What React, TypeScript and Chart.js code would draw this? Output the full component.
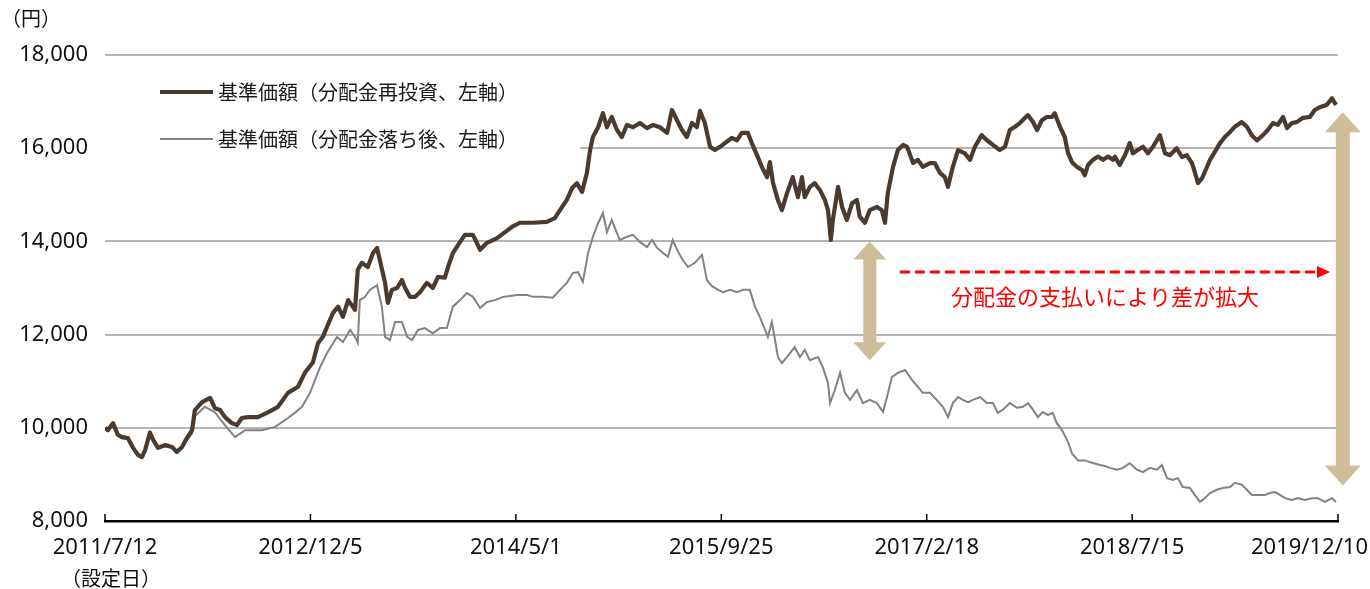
import React, { useEffect, useRef } from 'react';
import { Chart, registerables } from 'chart.js';

Chart.register(...registerables);

// ---- data (x = days since 2011/7/12) ----
const tickDays = [0, 512, 1024, 1536, 2048, 2560, 3073];
const tickLabels = ['2011/7/12', '2012/12/5', '2014/5/1', '2015/9/25', '2017/2/18', '2018/7/15', '2019/12/10'];
const yTicks = [8000, 10000, 12000, 14000, 16000, 18000];
const seriesNames = ['基準価額（分配金再投資、左軸）', '基準価額（分配金落ち後、左軸）'];

const reinvestDays = [
  0, 7, 20, 32, 42, 57, 70, 82, 92, 100,
  112, 120, 132, 150, 167, 179, 192, 204, 217, 224,
  242, 262, 274, 287, 299, 316, 329, 341, 356, 381,
  406, 431, 456, 481, 498, 518, 531, 543, 553, 568,
  581, 593, 606, 623, 630, 640, 655, 668, 678, 685,
  698, 705, 715, 728, 740, 748, 760, 773, 785, 802,
  817, 830, 847, 855, 867, 885, 897, 917, 935, 952,
  977, 997, 1014, 1034, 1067, 1101, 1121, 1134, 1151, 1164,
  1176, 1189, 1201, 1209, 1216, 1229, 1241, 1251, 1263, 1276,
  1288, 1301, 1316, 1333, 1351, 1366, 1383, 1401, 1413, 1425,
  1438, 1450, 1463, 1475, 1483, 1495, 1508, 1520, 1533, 1545,
  1562, 1575, 1587, 1602, 1612, 1625, 1637, 1650, 1657, 1665,
  1677, 1687, 1700, 1714, 1727, 1737, 1744, 1757, 1769, 1782,
  1794, 1802, 1809, 1814, 1827, 1837, 1849, 1862, 1874, 1881,
  1894, 1906, 1924, 1936, 1944, 1951, 1964, 1976, 1989, 1999,
  2014, 2026, 2038, 2056, 2068, 2081, 2093, 2101, 2113, 2126,
  2143, 2156, 2168, 2185, 2198, 2213, 2230, 2243, 2255, 2268,
  2280, 2300, 2313, 2323, 2335, 2347, 2360, 2367, 2380, 2392,
  2400, 2410, 2422, 2435, 2442, 2450, 2462, 2475, 2487, 2500,
  2512, 2517, 2529, 2542, 2554, 2562, 2574, 2587, 2599, 2612,
  2629, 2642, 2654, 2671, 2684, 2696, 2709, 2716, 2724, 2734,
  2741, 2754, 2766, 2779, 2791, 2804, 2816, 2833, 2846, 2858,
  2871, 2886, 2898, 2911, 2923, 2936, 2946, 2958, 2970, 2985,
  3003, 3015, 3028, 3045, 3058, 3068,
];
const reinvestNav = [
  10000, 9950, 10100, 9850, 9800, 9780, 9570, 9420, 9370, 9520,
  9900, 9740, 9570, 9630, 9590, 9480, 9590, 9780, 9950, 10380,
  10550, 10640, 10420, 10380, 10230, 10100, 10060, 10210, 10230, 10230,
  10330, 10450, 10750, 10880, 11180, 11400, 11820, 11950, 12160, 12460,
  12600, 12380, 12740, 12530, 13390, 13540, 13450, 13750, 13860, 13600,
  13110, 12680, 12960, 13000, 13170, 13000, 12810, 12810, 12910, 13110,
  13000, 13240, 13220, 13450, 13750, 13990, 14140, 14140, 13820, 13970,
  14070, 14200, 14310, 14400, 14400, 14420, 14500, 14670, 14890, 15140,
  15250, 15060, 15470, 15960, 16240, 16450, 16750, 16450, 16670, 16390,
  16240, 16500, 16450, 16540, 16430, 16500, 16450, 16330, 16820, 16610,
  16390, 16240, 16540, 16450, 16800, 16540, 16030, 15960, 16030, 16110,
  16220, 16170, 16330, 16330, 16110, 15850, 15600, 15380, 15700, 15250,
  14890, 14670, 15040, 15380, 14950, 15380, 14950, 15170, 15250, 15100,
  14890, 14670, 14030, 14460, 15170, 14740, 14460, 14820, 14890, 14530,
  14400, 14670, 14740, 14670, 14400, 15040, 15600, 15960, 16070, 16030,
  15680, 15750, 15600, 15680, 15680, 15470, 15380, 15170, 15600, 15960,
  15890, 15750, 16030, 16280, 16170, 16070, 15960, 16030, 16390, 16460,
  16540, 16710, 16560, 16390, 16600, 16670, 16670, 16750, 16460, 16240,
  15900, 15700, 15600, 15530, 15420, 15640, 15750, 15820, 15750, 15820,
  15750, 15820, 15640, 15850, 16110, 15890, 15960, 16030, 15890, 16030,
  16280, 15890, 15850, 16000, 15810, 15850, 15680, 15490, 15250, 15350,
  15490, 15750, 15920, 16110, 16240, 16350, 16460, 16560, 16460, 16280,
  16170, 16280, 16390, 16540, 16500, 16670, 16430, 16540, 16560, 16650,
  16670, 16820, 16880, 16930, 17070, 16930,
];

const afterDays = [
  0, 7, 20, 32, 42, 57, 70, 82, 92, 100,
  112, 120, 132, 150, 167, 179, 192, 204, 217, 224,
  249, 274, 299, 324, 349, 374, 391, 424, 456, 473,
  491, 511, 536, 553, 578, 593, 611, 623, 630, 635,
  648, 660, 678, 690, 698, 710, 723, 740, 753, 765,
  780, 797, 817, 835, 852, 867, 885, 902, 917, 935,
  952, 972, 992, 1009, 1027, 1052, 1067, 1091, 1116, 1134,
  1151, 1166, 1179, 1191, 1204, 1216, 1229, 1241, 1251, 1263,
  1276, 1283, 1301, 1316, 1333, 1351, 1363, 1376, 1391, 1403,
  1415, 1428, 1440, 1453, 1470, 1488, 1500, 1513, 1528, 1540,
  1558, 1575, 1590, 1607, 1620, 1632, 1645, 1652, 1662, 1670,
  1677, 1687, 1700, 1719, 1732, 1744, 1757, 1777, 1789, 1802,
  1807, 1819, 1832, 1844, 1857, 1874, 1889, 1906, 1924, 1939,
  1949, 1961, 1976, 1994, 2011, 2026, 2038, 2056, 2073, 2088,
  2101, 2113, 2126, 2138, 2151, 2163, 2181, 2198, 2213, 2225,
  2238, 2255, 2273, 2288, 2300, 2313, 2325, 2337, 2350, 2362,
  2372, 2385, 2400, 2410, 2425, 2442, 2460, 2480, 2492, 2504,
  2522, 2537, 2554, 2572, 2587, 2604, 2622, 2634, 2647, 2661,
  2674, 2686, 2704, 2716, 2729, 2741, 2754, 2771, 2786, 2804,
  2816, 2833, 2846, 2858, 2873, 2891, 2903, 2916, 2928, 2941,
  2958, 2973, 2990, 3008, 3023, 3040, 3058, 3068,
];
const afterNav = [
  10000, 9950, 10080, 9830, 9790, 9760, 9550, 9400, 9360, 9500,
  9880, 9720, 9560, 9600, 9570, 9470, 9560, 9730, 9880, 10250,
  10450, 10330, 10060, 9800, 9950, 9950, 9950, 10020, 10210, 10320,
  10450, 10750, 11300, 11600, 11950, 11840, 12100, 11950, 11820, 12740,
  12810, 12960, 13060, 12600, 11950, 11880, 12270, 12270, 11950, 11880,
  12100, 12140, 12030, 12140, 12140, 12600, 12740, 12890, 12810, 12570,
  12700, 12740, 12810, 12830, 12850, 12850, 12810, 12810, 12790, 12960,
  13110, 13320, 13340, 13130, 13750, 14100, 14390, 14610, 14200, 14460,
  14180, 14030, 14100, 14140, 13990, 13880, 14030, 13860, 13750, 13670,
  14030, 13780, 13600, 13450, 13540, 13710, 13170, 13040, 12960, 12910,
  12960, 12910, 12960, 12960, 12600, 12380, 12100, 11950, 12270, 11880,
  11520, 11390, 11520, 11730, 11520, 11670, 11450, 11520, 11300, 10960,
  10530, 10810, 11180, 10750, 10600, 10810, 10530, 10600, 10530, 10340,
  10660, 11090, 11180, 11240, 11030, 10880, 10750, 10750, 10600, 10450,
  10230, 10530, 10660, 10600, 10550, 10600, 10660, 10530, 10530, 10320,
  10390, 10530, 10430, 10450, 10530, 10390, 10230, 10340, 10270, 10320,
  10100, 9950, 9700, 9450, 9300, 9300, 9250, 9200, 9180, 9140,
  9100, 9140, 9240, 9100, 9050, 9140, 9100, 9200, 8920, 8880,
  8920, 8730, 8710, 8560, 8410, 8490, 8600, 8670, 8710, 8730,
  8820, 8780, 8670, 8560, 8560, 8560, 8600, 8620, 8560, 8490,
  8450, 8490, 8450, 8490, 8490, 8410, 8490, 8410,
];

// annotation anchors in data units (day, value)
const gapArrowSmall = { day: 1906, from: 14000, to: 11450 };
const gapArrowLarge = { day: 3085, from: 16770, to: 8760 };
const trendArrow = { fromDay: 1981, toDay: 3053, value: 13343 };
const noteText = '分配金の支払いにより差が拡大';
const noteAnchor = { day: 2492, value: 12807 };

const BROWN = '#4b3a2f';
const GRAY = '#828282';
const TAN = '#cfbd99';
const NUM_FONT = "'Noto Sans', sans-serif";
const JP_FONT = "'Noto Sans CJK JP', 'Noto Sans', sans-serif";

function drawDoubleArrow(ctx: CanvasRenderingContext2D, x: number, yTop: number, yBot: number, shaftW: number, headW: number, headL: number) {
  ctx.fillStyle = TAN;
  ctx.beginPath();
  ctx.moveTo(x, yTop);
  ctx.lineTo(x + headW / 2, yTop + headL);
  ctx.lineTo(x + shaftW / 2, yTop + headL);
  ctx.lineTo(x + shaftW / 2, yBot - headL);
  ctx.lineTo(x + headW / 2, yBot - headL);
  ctx.lineTo(x, yBot);
  ctx.lineTo(x - headW / 2, yBot - headL);
  ctx.lineTo(x - shaftW / 2, yBot - headL);
  ctx.lineTo(x - shaftW / 2, yTop + headL);
  ctx.lineTo(x - headW / 2, yTop + headL);
  ctx.closePath();
  ctx.fill();
}

const overlayPlugin = {
  id: 'overlayPlugin',
  beforeDatasetsDraw(chart: any) {
    const { ctx, chartArea } = chart;
    ctx.save();
    // legend box (white) covering grid
    ctx.fillStyle = '#ffffff';
    ctx.fillRect(chartArea.left, 66, 580 - chartArea.left, 96);
    const rows = [
      { y: 92, color: BROWN, w: 4 },
      { y: 139, color: GRAY, w: 2 },
    ];
    rows.forEach((r, i) => {
      ctx.strokeStyle = r.color;
      ctx.lineWidth = r.w;
      ctx.beginPath();
      ctx.moveTo(160, r.y);
      ctx.lineTo(213, r.y);
      ctx.stroke();
      ctx.fillStyle = '#1a1a1a';
      ctx.font = `20px ${JP_FONT}`;
      ctx.textAlign = 'left';
      ctx.textBaseline = 'middle';
      ctx.fillText(seriesNames[i], 218, r.y);
    });
    ctx.restore();
  },
  afterDraw(chart: any) {
    const { ctx, chartArea } = chart;
    const xs = chart.scales.x;
    const ys = chart.scales.y;
    ctx.save();

    // x tick marks (pointing up) and labels
    ctx.strokeStyle = '#000';
    ctx.lineWidth = 1.5;
    ctx.font = `22px ${NUM_FONT}`;
    ctx.fillStyle = '#111';
    ctx.textBaseline = 'middle';
    ctx.textAlign = 'center';
    tickDays.forEach((d, i) => {
      const px = xs.getPixelForValue(d);
      ctx.beginPath();
      ctx.moveTo(px, chartArea.bottom);
      ctx.lineTo(px, chartArea.bottom - 7);
      ctx.stroke();
      const w = ctx.measureText(tickLabels[i]).width;
      const cx = Math.min(px, chart.width - 2 - w / 2);
      ctx.fillText(tickLabels[i], cx, 548);
    });
    ctx.font = `20px ${JP_FONT}`;
    ctx.fillText('（設定日）', xs.getPixelForValue(0) + 6, 578);

    // unit label
    ctx.textAlign = 'left';
    ctx.font = `20px ${JP_FONT}`;
    ctx.fillText('（円）', 1, 18);

    // tan double arrows
    drawDoubleArrow(ctx, xs.getPixelForValue(gapArrowSmall.day), ys.getPixelForValue(gapArrowSmall.from), ys.getPixelForValue(gapArrowSmall.to), 13, 33, 18);
    drawDoubleArrow(ctx, xs.getPixelForValue(gapArrowLarge.day), ys.getPixelForValue(gapArrowLarge.from), ys.getPixelForValue(gapArrowLarge.to), 14, 36, 20);

    // red dashed arrow
    const ry = ys.getPixelForValue(trendArrow.value);
    const rx1 = xs.getPixelForValue(trendArrow.fromDay);
    const rx2 = xs.getPixelForValue(trendArrow.toDay);
    ctx.strokeStyle = '#ff0000';
    ctx.lineWidth = 3;
    ctx.setLineDash([10, 5]);
    ctx.beginPath();
    ctx.moveTo(rx1, ry);
    ctx.lineTo(rx2 - 10, ry);
    ctx.stroke();
    ctx.setLineDash([]);
    ctx.fillStyle = '#ff0000';
    ctx.beginPath();
    ctx.moveTo(rx2, ry);
    ctx.lineTo(rx2 - 13, ry - 6);
    ctx.lineTo(rx2 - 13, ry + 6);
    ctx.closePath();
    ctx.fill();

    // red note
    ctx.font = `22px ${JP_FONT}`;
    ctx.textAlign = 'center';
    ctx.textBaseline = 'middle';
    ctx.fillText(noteText, xs.getPixelForValue(noteAnchor.day), ys.getPixelForValue(noteAnchor.value));
    ctx.restore();
  },
};

export default function App() {
  const ref = useRef<HTMLCanvasElement | null>(null);
  useEffect(() => {
    if (!ref.current) return;
    const chart = new Chart(ref.current, {
      type: 'line',
      data: {
        datasets: [
          {
            label: seriesNames[0],
            data: reinvestDays.map((d, i) => ({ x: d, y: reinvestNav[i] })),
            borderColor: BROWN,
            backgroundColor: BROWN,
            borderWidth: 4.2,
            pointRadius: 0,
            tension: 0,
            borderJoinStyle: 'round',
          },
          {
            label: seriesNames[1],
            data: afterDays.map((d, i) => ({ x: d, y: afterNav[i] })),
            borderColor: GRAY,
            backgroundColor: GRAY,
            borderWidth: 2,
            pointRadius: 0,
            tension: 0,
          },
        ],
      },
      options: {
        animation: false,
        responsive: false,
        maintainAspectRatio: false,
        layout: { padding: { left: 0, right: 32, top: 55, bottom: 0 } },
        plugins: { legend: { display: false }, tooltip: { enabled: false } },
        scales: {
          x: {
            type: 'linear',
            min: 0,
            max: 3073,
            grid: { display: false, drawTicks: false },
            border: { display: true, color: '#000', width: 2.5 },
            ticks: { display: false },
            afterFit: (s: any) => { s.height = 68; },
          },
          y: {
            type: 'linear',
            min: 8000,
            max: 18000,
            afterBuildTicks: (s: any) => { s.ticks = yTicks.map((v) => ({ value: v })); },
            grid: { color: '#b5b5b5', lineWidth: 2, drawTicks: false },
            border: { display: false },
            ticks: {
              padding: 17,
              color: '#111',
              font: { family: NUM_FONT, size: 22 },
              callback: (v: any) => Number(v).toLocaleString('en-US'),
            },
            afterFit: (s: any) => { s.width = 105; },
          },
        },
      },
      plugins: [overlayPlugin],
    } as any);
    return () => chart.destroy();
  }, []);
  return (
    <div style={{ position: 'fixed', left: 0, top: 0, width: 1370, height: 589, background: '#fff' }}>
      <canvas ref={ref} width={1370} height={589} style={{ width: 1370, height: 589, display: 'block' }} />
    </div>
  );
}
